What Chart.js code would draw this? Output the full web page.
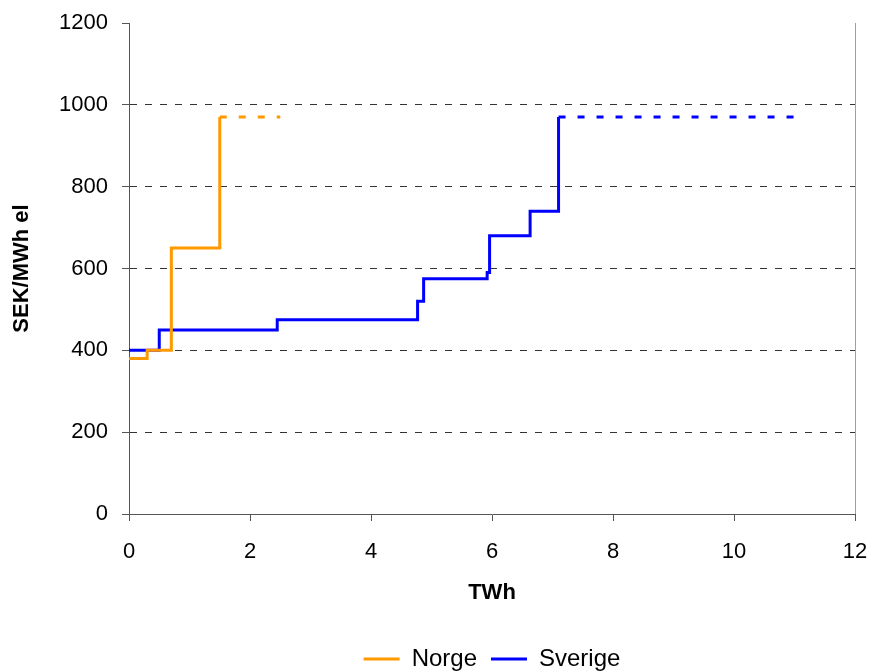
<!DOCTYPE html>
<html>
<head>
<meta charset="utf-8">
<script src="https://cdn.jsdelivr.net/npm/chart.js@4.4.0/dist/chart.umd.min.js"></script>
<style>
  body { margin: 0; background: #fff; }
  #wrap { width: 871px; height: 671px; }
</style>
</head>
<body>
<div id="wrap"><canvas id="myChart"></canvas></div>
<script>
// data (TWh, SEK/MWh el)
const norgeX = [0, 0.3, 0.7, 1.5]
const norgeY = [380, 400, 650, 970]
const norgeRestX = [1.5, 2.5]
const norgeRestY = [970, 970]

const sverigeX = [0, 0.5, 2.45, 4.77, 4.87, 5.92, 5.96, 6.63, 7.1]
const sverigeY = [400, 450, 475, 520, 575, 590, 680, 740, 970]
const sverigeRestX = [7.1, 11]
const sverigeRestY = [970, 970]

const orange = '#FF9900'
const blue = '#0000FF'

function pts(xs, ys){
    return xs.map((x, i) => ({x: x, y: ys[i]}))
}

function serie(label, xs, ys, color, dashed){
    return {
        label: label,
        data: pts(xs, ys),
        borderColor: color,
        backgroundColor: color,
        borderWidth: 3,
        borderDash: dashed ? [7, 12] : [],
        stepped: 'before',
        pointRadius: 0,
        fill: false,
        dashed: dashed
    }
}

const data = {
    datasets: [
        serie('Norge', norgeX, norgeY, orange, false),
        serie('Sverige', sverigeX, sverigeY, blue, false),
        serie('Norge rest', norgeRestX, norgeRestY, orange, true),
        serie('Sverige rest', sverigeRestX, sverigeRestY, blue, true)
    ]
}

const tickFont = {family: 'Arial, "Liberation Sans"', size: 22}
const legendFont = {family: 'Arial, "Liberation Sans"', size: 24}
const titleFont = {family: 'Arial, "Liberation Sans"', size: 22, weight: 'bold'}

const config = {
    type: 'line',
    data: data,
    options: {
        responsive: true,
        maintainAspectRatio: false,
        animation: false,
        layout: {padding: {top: 23, right: 16, bottom: -10, left: 0}},
        plugins: {
            tooltip: {enabled: false},
            legend: {
                position: 'bottom',
                fullSize: false,
                labels: {
                    color: '#000',
                    font: legendFont,
                    boxWidth: 36,
                    boxHeight: 3,
                    padding: 14,
                    filter: item => !data.datasets[item.datasetIndex].dashed,
                    generateLabels: chart => chart.data.datasets.map((d, i) => ({
                        text: d.label,
                        fillStyle: d.borderColor,
                        strokeStyle: d.borderColor,
                        lineWidth: 0,
                        fontColor: '#000',
                        datasetIndex: i
                    }))
                }
            }
        },
        scales: {
            x: {
                type: 'linear',
                min: 0,
                max: 12,
                afterFit: s => { s.height = 119; s.paddingLeft = 0; s.paddingRight = 0 },
                ticks: {stepSize: 2, color: '#000', font: tickFont, padding: 18, maxRotation: 0,
                        callback: v => String(v)},
                grid: {
                    color: c => c.tick && c.tick.value === 12 ? '#a0a0a0' : 'transparent',
                    tickColor: '#555',
                    tickLength: 7
                },
                border: {display: true, color: '#555', width: 1},
                title: {display: true, text: 'TWh', color: '#000', font: titleFont, padding: {top: 0, bottom: 27}}
            },
            y: {
                min: 0,
                max: 1200,
                afterFit: s => { s.width = 129; s.paddingTop = 0; s.paddingBottom = 0 },
                ticks: {stepSize: 200, color: '#000', font: tickFont, padding: 14,
                        callback: v => String(v)},
                grid: {
                    color: c => c.tick && (c.tick.value === 0 || c.tick.value === 1200) ? 'transparent' : '#333',
                    tickColor: '#555',
                    tickLength: 7
                },
                border: {display: true, color: '#555', width: 1, dash: [7, 8]},
                title: {display: true, text: 'SEK/MWh el', color: '#000', font: titleFont, padding: {top: 9, bottom: 0}}
            }
        }
    }
}

const myChart = new Chart(document.getElementById('myChart'), config)
</script>
</body>
</html>
